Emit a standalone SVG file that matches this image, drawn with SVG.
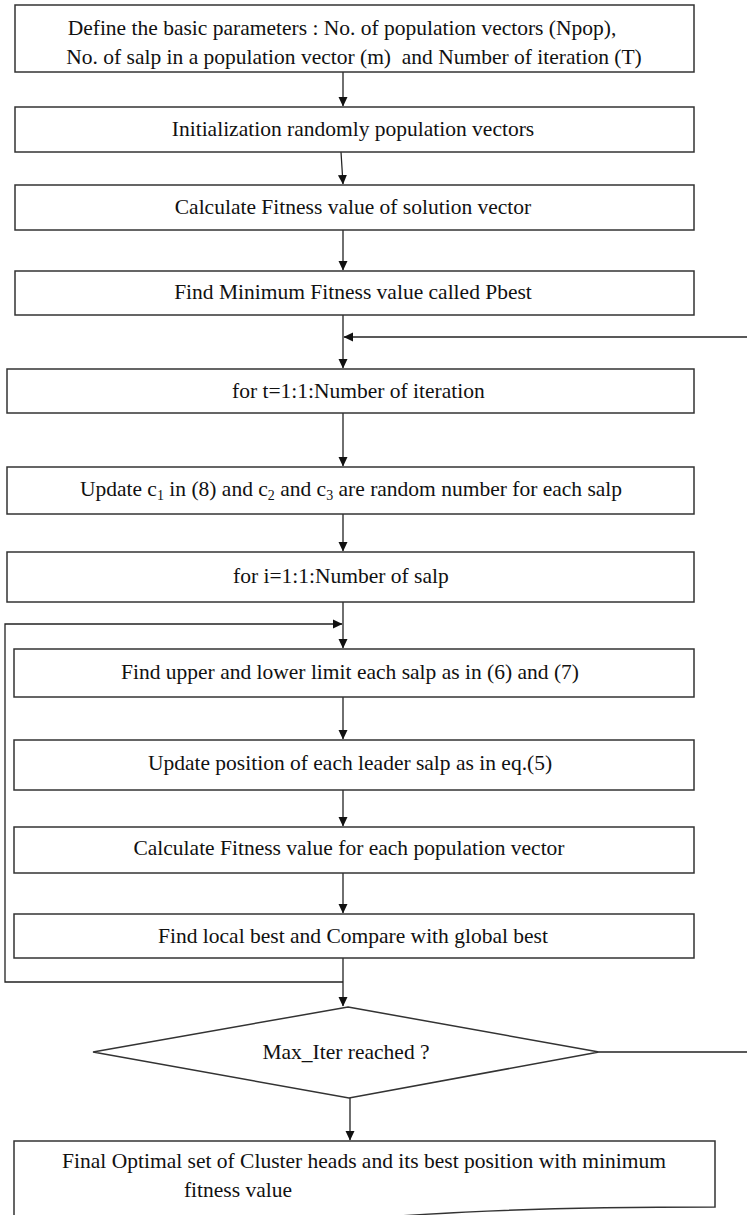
<svg xmlns="http://www.w3.org/2000/svg" width="747" height="1215" viewBox="0 0 747 1215">
<style>
.box{fill:#fff;stroke:#333;stroke-width:1.5}
.t{font-family:"Liberation Serif","Times New Roman",serif;font-size:21.5px;fill:#111;text-anchor:middle}
.ts{text-anchor:start}
.c{fill:none;stroke:#222;stroke-width:1.3}
</style>
<defs>
<marker id="ah" markerWidth="10" markerHeight="10" refX="9" refY="5" orient="auto" markerUnits="userSpaceOnUse">
<path d="M0,0.5 L9.5,5 L0,9.5 Z" fill="#111"/>
</marker>
</defs>
<rect width="747" height="1215" fill="#fff"/>
<g id="connectors">
<path class="c" d="M343,72 V106" marker-end="url(#ah)"/>
<path class="c" d="M341,152 L343,184" marker-end="url(#ah)"/>
<path class="c" d="M343,230 V270" marker-end="url(#ah)"/>
<path class="c" d="M343,315 V368" marker-end="url(#ah)"/>
<path class="c" d="M747,337 H344" marker-end="url(#ah)"/>
<path class="c" d="M343,413 V466" marker-end="url(#ah)"/>
<path class="c" d="M343,514 V551" marker-end="url(#ah)"/>
<path class="c" d="M343,602 V648" marker-end="url(#ah)"/>
<path class="c" d="M343,982 H5 V624 H342" marker-end="url(#ah)"/>
<path class="c" d="M343,697 V739" marker-end="url(#ah)"/>
<path class="c" d="M343,790 V826" marker-end="url(#ah)"/>
<path class="c" d="M343,873 V913" marker-end="url(#ah)"/>
<path class="c" d="M343,958 V1006" marker-end="url(#ah)"/>
<path class="c" d="M350,1098 V1140" marker-end="url(#ah)"/>
<path class="c" d="M599,1052 H747"/>
</g>
<g id="n1">
<rect class="box" x="15" y="5" width="679" height="67"/>
<text class="t" x="342" y="35">Define the basic parameters : No. of population vectors (Npop),</text>
<text class="t" x="354" y="64" xml:space="preserve">No. of salp in a population vector (m)  and Number of iteration (T)</text>
</g>
<g id="n2">
<rect class="box" x="15" y="107" width="679" height="45"/>
<text class="t" x="353" y="136">Initialization randomly population vectors</text>
</g>
<g id="n3">
<rect class="box" x="15" y="185" width="679" height="45"/>
<text class="t" x="353" y="214">Calculate Fitness value of solution vector</text>
</g>
<g id="n4">
<rect class="box" x="15" y="271" width="679" height="44"/>
<text class="t" x="353" y="299">Find Minimum Fitness value called Pbest</text>
</g>
<g id="n5">
<rect class="box" x="7" y="369" width="687" height="44"/>
<text class="t ts" x="232" y="398">for t=1:1:Number of iteration</text>
</g>
<g id="n6">
<rect class="box" x="7" y="467" width="687" height="47"/>
<text class="t" x="351" y="496">Update c<tspan font-size="14" dy="4">1</tspan><tspan dy="-4"> in (8) and c</tspan><tspan font-size="14" dy="4">2</tspan><tspan dy="-4"> and c</tspan><tspan font-size="14" dy="4">3</tspan><tspan dy="-4"> are random number for each salp</tspan></text>
</g>
<g id="n7">
<rect class="box" x="7" y="552" width="687" height="50"/>
<text class="t ts" x="233" y="583">for i=1:1:Number of salp</text>
</g>
<g id="n8">
<rect class="box" x="14" y="649" width="680" height="48"/>
<text class="t" x="350" y="679">Find upper and lower limit each salp as in (6) and (7)</text>
</g>
<g id="n9">
<rect class="box" x="14" y="740" width="680" height="50"/>
<text class="t" x="350" y="770">Update position of each leader salp as in eq.(5)</text>
</g>
<g id="n10">
<rect class="box" x="14" y="827" width="680" height="46"/>
<text class="t" x="349" y="855">Calculate Fitness value for each population vector</text>
</g>
<g id="n11">
<rect class="box" x="14" y="914" width="680" height="44"/>
<text class="t" x="353" y="943">Find local best and Compare with global best</text>
</g>
<g id="n12">
<polygon class="box" points="348,1007 599,1052 349,1098 93,1052"/>
<text class="t" x="346" y="1059">Max_Iter reached ?</text>
</g>
<g id="n13">
<path class="box" d="M14,1216 V1141 H715 V1207 C600,1207 480,1210 400,1216"/>
<text class="t" x="364" y="1168">Final Optimal set of Cluster heads and its best position with minimum</text>
<text class="t" x="238" y="1197">fitness value</text>
</g>
</svg>
